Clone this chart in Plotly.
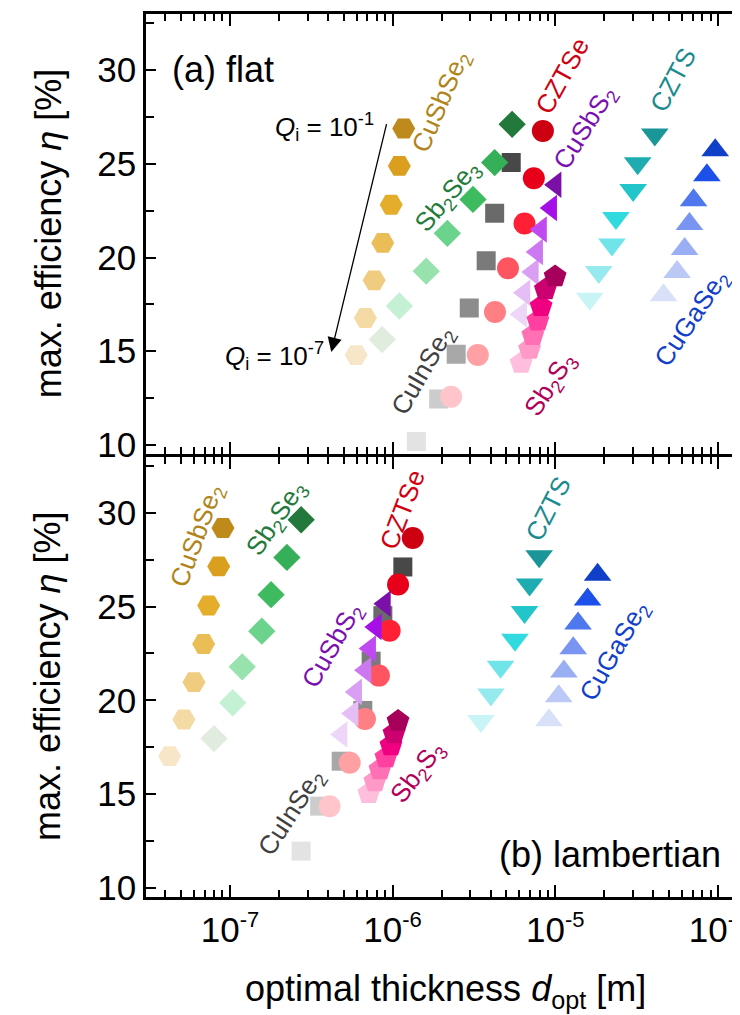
import plotly.graph_objects as go

# ---------------- data (order: Q_i = 1e-1 ... 1e-7) ----------------
materials = ["CuInSe2", "CZTSe", "CuSbS2", "Sb2S3", "CuSbSe2", "Sb2Se3", "CZTS", "CuGaSe2"]

# (a) flat
flat_d = {
    "CuSbSe2": [1.17e-6, 1.10e-6, 9.8e-7, 8.7e-7, 7.7e-7, 6.8e-7, 5.97e-7],
    "Sb2Se3":  [5.43e-6, 4.24e-6, 3.12e-6, 2.17e-6, 1.61e-6, 1.10e-6, 8.63e-7],
    "CuInSe2": [5.36e-6, 4.24e-6, 3.76e-6, 2.96e-6, 2.46e-6, 1.92e-6, 1.40e-6],
    "CZTSe":   [8.39e-6, 7.38e-6, 6.47e-6, 5.12e-6, 4.26e-6, 3.34e-6, 2.29e-6],
    "CuSbS2":  [1.005e-5, 9.44e-6, 8.18e-6, 7.74e-6, 7.28e-6, 6.47e-6, 6.17e-6],
    "Sb2S3":   [9.98e-6, 8.69e-6, 8.18e-6, 7.82e-6, 7.28e-6, 6.95e-6, 6.17e-6],
    "CZTS":    [4.09e-5, 3.21e-5, 3.01e-5, 2.36e-5, 2.23e-5, 1.85e-5, 1.63e-5],
    "CuGaSe2": [9.62e-5, 8.55e-5, 7.08e-5, 6.68e-5, 6.24e-5, 5.61e-5, 4.63e-5],
}
flat_eta = {
    "CuSbSe2": [26.89, 24.89, 22.82, 20.78, 18.78, 16.77, 14.79],
    "Sb2Se3":  [27.11, 25.07, 23.10, 21.29, 19.27, 17.41, 15.62],
    "CuInSe2": [25.07, 22.36, 19.83, 17.30, 14.83, 12.45, 10.18],
    "CZTSe":   [26.76, 24.23, 21.82, 19.43, 17.09, 14.80, 12.57],
    "CuSbS2":  [23.88, 22.64, 21.49, 20.30, 19.22, 18.12, 16.97],
    "Sb2S3":   [18.99, 18.29, 17.39, 16.62, 15.85, 15.11, 14.36],
    "CZTS":    [26.57, 25.03, 23.60, 22.11, 20.69, 19.23, 17.80],
    "CuGaSe2": [25.72, 24.39, 23.06, 21.79, 20.46, 19.22, 17.98],
}
# (b) lambertian
lamb_d = {
    "CuSbSe2": [9.06e-8, 8.53e-8, 7.40e-8, 6.89e-8, 6.01e-8, 5.21e-8, 4.26e-8],
    "Sb2Se3":  [2.74e-7, 2.24e-7, 1.79e-7, 1.57e-7, 1.19e-7, 1.04e-7, 7.98e-8],
    "CuInSe2": [1.156e-6, 8.71e-7, 7.38e-7, 6.56e-7, 4.83e-7, 3.56e-7, 2.74e-7],
    "CZTSe":   [1.33e-6, 1.08e-6, 9.59e-7, 8.24e-7, 6.76e-7, 5.45e-7, 4.10e-7],
    "CuSbS2":  [8.97e-7, 7.89e-7, 7.28e-7, 6.82e-7, 5.97e-7, 5.68e-7, 4.86e-7],
    "Sb2S3":   [1.08e-6, 1.02e-6, 9.77e-7, 9.10e-7, 8.36e-7, 7.78e-7, 7.14e-7],
    "CZTS":    [7.96e-6, 6.95e-6, 6.47e-6, 5.65e-6, 4.61e-6, 4.02e-6, 3.49e-6],
    "CuGaSe2": [1.82e-5, 1.58e-5, 1.38e-5, 1.29e-5, 1.13e-5, 1.05e-5, 9.14e-6],
}
lamb_eta = {
    "CuSbSe2": [29.20, 27.15, 25.06, 23.01, 20.97, 18.98, 17.02],
    "Sb2Se3":  [29.64, 27.63, 25.64, 23.69, 21.79, 19.87, 17.96],
    "CuInSe2": [27.12, 24.52, 22.09, 19.46, 16.75, 14.35, 11.95],
    "CZTSe":   [28.67, 26.18, 23.72, 21.32, 19.00, 16.67, 14.35],
    "CuSbS2":  [25.16, 23.92, 22.76, 21.61, 20.45, 19.30, 18.18],
    "Sb2S3":   [18.89, 18.23, 17.59, 16.95, 16.31, 15.67, 15.03],
    "CZTS":    [27.69, 26.18, 24.72, 23.24, 21.79, 20.31, 18.89],
    "CuGaSe2": [26.71, 25.38, 24.10, 22.78, 21.54, 20.22, 18.94],
}

labels_html = {
    "CuSbSe2": "CuSbSe<sub>2</sub>", "Sb2Se3": "Sb<sub>2</sub>Se<sub>3</sub>",
    "CuInSe2": "CuInSe<sub>2</sub>", "CZTSe": "CZTSe", "CuSbS2": "CuSbS<sub>2</sub>",
    "Sb2S3": "Sb<sub>2</sub>S<sub>3</sub>", "CZTS": "CZTS", "CuGaSe2": "CuGaSe<sub>2</sub>",
}
x_tick_vals = [1e-7, 1e-6, 1e-5, 1e-4]
x_tick_exps = ["-7", "-6", "-5", "-4"]
y_tick_vals = [10, 15, 20, 25, 30]

# ---------------- styles ----------------
symbols = {"CuSbSe2": "hexagon2", "Sb2Se3": "diamond", "CuInSe2": "square", "CZTSe": "circle",
           "CuSbS2": "triangle-left", "Sb2S3": "pentagon", "CZTS": "triangle-down", "CuGaSe2": "triangle-up"}
sizes = {"CuSbSe2": 23, "Sb2Se3": 21, "CuInSe2": 19, "CZTSe": 22,
         "CuSbS2": 23, "Sb2S3": 24, "CZTS": 24, "CuGaSe2": 24}
colors = {
    "CuSbSe2": ["#BD8A1B", "#DA9F1E", "#E5AD2C", "#EBBD56", "#F0CC80", "#F4DBA6", "#F7E7C8"],
    "Sb2Se3":  ["#23783C", "#36B058", "#3DBB5E", "#6BD38C", "#98E2AE", "#C4F0D4", "#E0ECDD"],
    "CuInSe2": ["#484848", "#6A6A6A", "#7A7A7A", "#8C8C8C", "#A8A8A8", "#CCCCCC", "#E3E3E3"],
    "CZTSe":   ["#CC0010", "#E8001A", "#FF2035", "#FF5560", "#FF7F85", "#FFA0A5", "#FFC5CA"],
    "CuSbS2":  ["#7A10A8", "#A510E8", "#BF4AF0", "#CC78F0", "#DA9FF2", "#E5BEF5", "#EDD6F8"],
    "Sb2S3":   ["#A6005A", "#CC0070", "#F00080", "#FF40A0", "#FF70B5", "#FF99C8", "#FFBEDC"],
    "CZTS":    ["#1A9598", "#1EACB0", "#22C5CA", "#30DADF", "#70E4E8", "#96EAEE", "#C8F4F6"],
    "CuGaSe2": ["#1040C8", "#1C50E8", "#4F78EE", "#7A94F2", "#9AAEF4", "#BCC9F6", "#D9E1F9"],
}
label_colors = {"CuSbSe2": "#B08418", "Sb2Se3": "#237A3B", "CuInSe2": "#404040", "CZTSe": "#D00010",
                "CuSbS2": "#7A10B0", "Sb2S3": "#B0005A", "CZTS": "#1A8A8E", "CuGaSe2": "#1040C8"}

FONT = "Liberation Sans, Arial, sans-serif"
fig = go.Figure()

for panel, (dd, ee, xa, ya) in {"a": (flat_d, flat_eta, "x2", "y2"),
                                "b": (lamb_d, lamb_eta, "x", "y")}.items():
    for m in materials:
        fig.add_trace(go.Scatter(
            x=dd[m][::-1], y=ee[m][::-1], mode="markers", xaxis=xa, yaxis=ya,
            marker=dict(symbol=symbols[m], size=sizes[m], color=colors[m][::-1],
                        line=dict(width=0)),
            showlegend=False, hoverinfo="skip"))

XR = [-7.516, -3.846]
minor_vals = [k * 10 ** e for e in range(-8, -3) for k in range(2, 10)]
minor_vals = [v for v in minor_vals if 10 ** XR[0] < v < 10 ** XR[1]]
x_tick_text = ['10<sup><span style="font-size:22px">%s</span></sup>' % e for e in x_tick_exps]

xcommon = dict(type="log", range=XR, showline=True, linewidth=2.5, linecolor="black",
               mirror="ticks", ticks="inside", ticklen=12, tickwidth=2, tickcolor="black",
               showgrid=False, zeroline=False, tickvals=x_tick_vals, automargin=False,
               minor=dict(tickvals=minor_vals, ticks="inside", ticklen=7, tickwidth=2,
                          tickcolor="black", showgrid=False),
               tickfont=dict(family=FONT, size=35, color="black"))
ycommon = dict(range=[9.5, 33], showline=True, linewidth=2.5, linecolor="black",
               mirror="ticks", ticks="inside", ticklen=10, tickwidth=2, tickcolor="black",
               showgrid=False, zeroline=False, tickvals=y_tick_vals, automargin=False,
               minor=dict(tickvals=[12.5, 17.5, 22.5, 27.5, 32.5], ticks="inside", ticklen=8,
                          tickwidth=2, tickcolor="black", showgrid=False),
               tickfont=dict(family=FONT, size=35, color="black"))

fig.update_layout(
    width=740, height=1015, margin=dict(l=138, r=5, t=6, b=126, autoexpand=False),
    plot_bgcolor="white", paper_bgcolor="white", showlegend=False,
    xaxis=dict(**xcommon, anchor="y", ticktext=x_tick_text),
    yaxis=dict(**ycommon, domain=[0, 0.4985], anchor="x"),
    xaxis2=dict(**xcommon, anchor="y2", showticklabels=False, matches="x"),
    yaxis2=dict(**ycommon, domain=[0.5015, 1], anchor="x2"),
)

ann = []
# series labels: (x log10, y, angle)
lab_a = {"CuSbSe2": (-5.697, 28.32, -67), "CZTSe": (-4.959, 29.70, -61), "CuSbS2": (-4.812, 26.93, -58),
         "CZTS": (-4.277, 29.48, -62), "Sb2Se3": (-5.660, 23.26, -50), "CuInSe2": (-5.808, 13.95, -60),
         "Sb2S3": (-5.027, 13.21, -57), "CuGaSe2": (-4.154, 16.72, -56)}
lab_b = {"CuSbSe2": (-7.197, 28.79, -70), "Sb2Se3": (-6.711, 29.70, -56), "CZTSe": (-5.943, 30.18, -69),
         "CuSbS2": (-6.367, 22.95, -60), "CuInSe2": (-6.619, 14.02, -57), "Sb2S3": (-5.844, 16.16, -53),
         "CZTS": (-5.046, 30.23, -63), "CuGaSe2": (-4.634, 22.61, -60)}
for labs, xr, yr in ((lab_a, "x2", "y2"), (lab_b, "x", "y")):
    for m, (lx, ly, ang) in labs.items():
        ann.append(dict(x=lx, y=ly, xref=xr, yref=yr, text=labels_html[m], showarrow=False,
                        textangle=ang, xanchor="center", yanchor="middle",
                        font=dict(family=FONT, size=26, color=label_colors[m])))

ann.append(dict(x=-7.369, y=30.06, xref="x2", yref="y2", text="(a) flat", showarrow=False,
                xanchor="left", yanchor="middle", font=dict(family=FONT, size=36, color="black")))
ann.append(dict(x=-3.97, y=11.79, xref="x", yref="y", text="(b) lambertian", showarrow=False,
                xanchor="right", yanchor="middle", font=dict(family=FONT, size=36, color="black")))
# Q_i arrow
ann.append(dict(x=-6.377, y=14.96, ax=-6.035, ay=27.20, xref="x2", yref="y2", axref="x2", ayref="y2",
                text="", showarrow=True, arrowhead=2, arrowsize=2.2, arrowwidth=1.3, arrowcolor="black"))
ann.append(dict(x=-6.10, y=26.95, xref="x2", yref="y2", text="<i>Q</i><sub>i</sub> = 10<sup>-1</sup>",
                showarrow=False, xanchor="right", yanchor="middle",
                font=dict(family=FONT, size=26, color="black")))
ann.append(dict(x=-6.41, y=14.75, xref="x2", yref="y2", text="<i>Q</i><sub>i</sub> = 10<sup>-7</sup>",
                showarrow=False, xanchor="right", yanchor="middle",
                font=dict(family=FONT, size=26, color="black")))
# axis titles
for yr in ("y2 domain", "y domain"):
    ann.append(dict(x=-0.164, y=0.5, xref="paper", yref=yr, text="max. efficiency <i>η</i> [%]",
                    showarrow=False, textangle=-90, xanchor="center", yanchor="middle",
                    font=dict(family=FONT, size=36, color="black")))
ann.append(dict(x=0.5017, y=-0.135, xref="paper", yref="paper",
                text="optimal thickness <i>d</i><sub>opt</sub> [m]", showarrow=False,
                xanchor="center", yanchor="bottom", font=dict(family=FONT, size=36, color="black")))
fig.update_layout(annotations=ann)

fig.write_html("out.html")
